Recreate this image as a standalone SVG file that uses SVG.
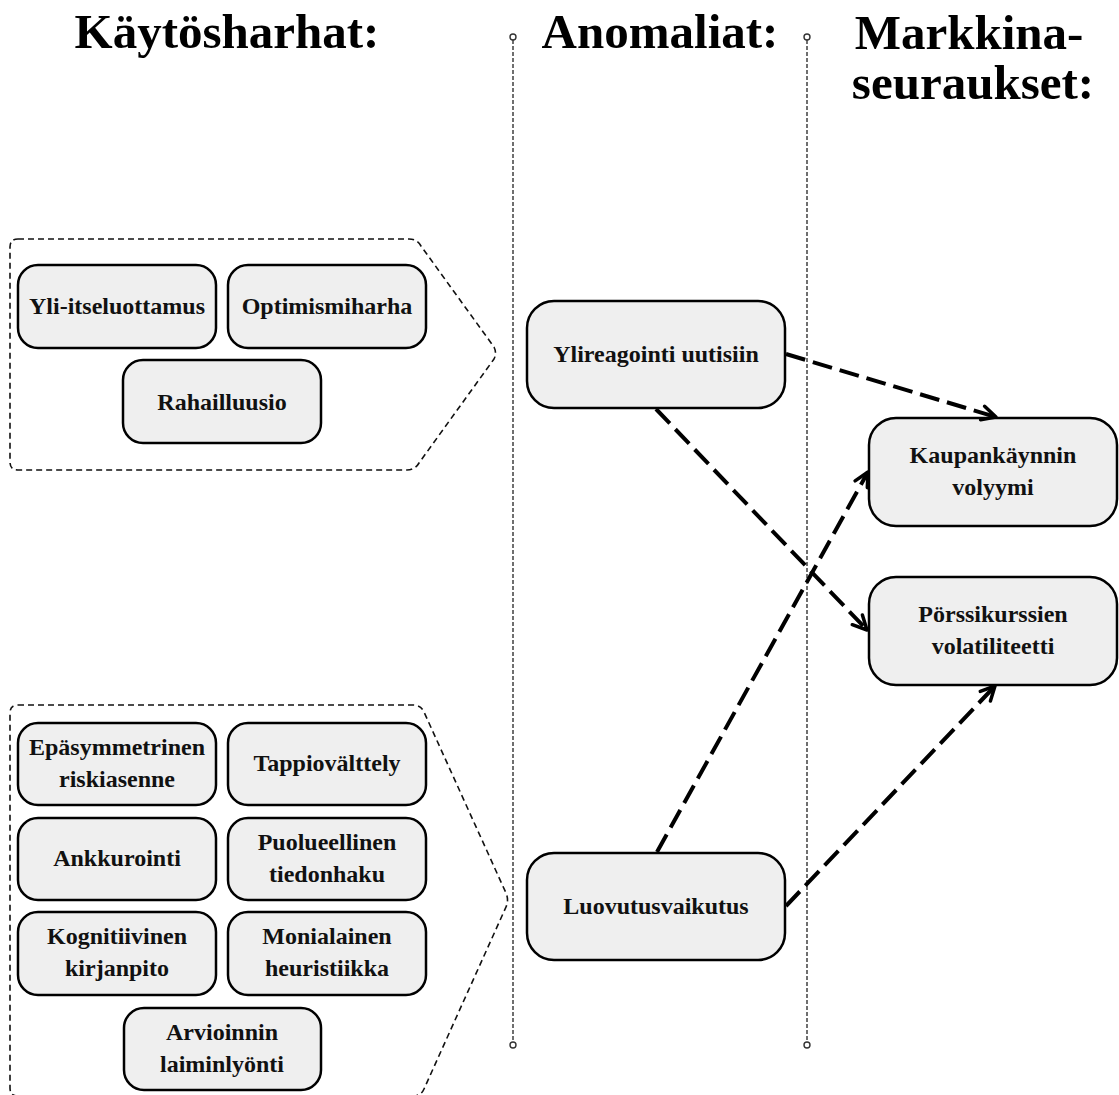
<svg xmlns="http://www.w3.org/2000/svg" width="1119" height="1095" viewBox="0 0 1119 1095">
<style>
.hdr{font-family:"Liberation Serif","Times New Roman",serif;font-weight:bold;font-size:49px;fill:#000;text-anchor:middle}
.lbl{font-family:"Liberation Serif","Times New Roman",serif;font-weight:bold;font-size:24px;fill:#111;text-anchor:middle}
.box{fill:#efefef;stroke:#000;stroke-width:2.5}
.grp{fill:none;stroke:#111;stroke-width:1.6;stroke-dasharray:6 4}
.sep{fill:none;stroke:#333;stroke-width:1.4;stroke-dasharray:4 2}
.dot{fill:#fff;stroke:#333;stroke-width:1.4}
.con{fill:none;stroke:#000;stroke-width:4;stroke-dasharray:20 8}
</style>
<defs>
<marker id="arr" markerUnits="userSpaceOnUse" markerWidth="20" markerHeight="20" viewBox="0 0 20 20" refX="17" refY="10" orient="auto">
<path d="M3,3 L17,10 L3,17" fill="none" stroke="#000" stroke-width="3.5" stroke-linecap="round" stroke-linejoin="round"/>
</marker>
</defs>
<rect width="1119" height="1095" fill="#fff"/>

<g id="headers">
<text class="hdr" x="227" y="48">Käytösharhat:</text>
<text class="hdr" x="660" y="48">Anomaliat:</text>
<text class="hdr"><tspan x="969" y="49">Markkina-</tspan><tspan x="973" y="99">seuraukset:</tspan></text>
</g>

<g id="separators">
<line class="sep" x1="513" y1="40" x2="513" y2="1042"/>
<circle class="dot" cx="513" cy="37" r="3"/>
<circle class="dot" cx="513" cy="1045" r="3"/>
<line class="sep" x1="807" y1="40" x2="807" y2="1042"/>
<circle class="dot" cx="807" cy="37" r="3"/>
<circle class="dot" cx="807" cy="1045" r="3"/>
</g>

<g id="group-top">
<path class="grp" d="M18,239 L409,239 Q417,239 421,246 L494,347 Q497,353 494,359 L419,463 Q415,470 407,470 L18,470 Q10,470 10,462 L10,247 Q10,239 18,239 Z"/>
</g>
<g id="group-bottom">
<path class="grp" d="M18,705 L413,705 Q421,705 424,712 L506,893 Q509,900 506,907 L424,1089 Q421,1096 413,1096 L18,1096 Q10,1096 10,1088 L10,713 Q10,705 18,705 Z"/>
</g>

<g id="n-yli">
<rect class="box" x="18" y="265" width="198" height="83" rx="20"/>
<text class="lbl" x="117" y="314">Yli-itseluottamus</text>
</g>
<g id="n-optimismi">
<rect class="box" x="228" y="265" width="198" height="83" rx="20"/>
<text class="lbl" x="327" y="314">Optimismiharha</text>
</g>
<g id="n-raha">
<rect class="box" x="123" y="360" width="198" height="83" rx="20"/>
<text class="lbl" x="222" y="410">Rahailluusio</text>
</g>

<g id="n-epasym">
<rect class="box" x="18" y="723" width="198" height="82" rx="20"/>
<text class="lbl" x="117" y="755">Epäsymmetrinen</text>
<text class="lbl" x="117" y="787">riskiasenne</text>
</g>
<g id="n-tappio">
<rect class="box" x="228" y="723" width="198" height="82" rx="20"/>
<text class="lbl" x="327" y="771">Tappiovälttely</text>
</g>
<g id="n-ankku">
<rect class="box" x="18" y="818" width="198" height="82" rx="20"/>
<text class="lbl" x="117" y="866">Ankkurointi</text>
</g>
<g id="n-puolu">
<rect class="box" x="228" y="818" width="198" height="82" rx="20"/>
<text class="lbl" x="327" y="850">Puolueellinen</text>
<text class="lbl" x="327" y="882">tiedonhaku</text>
</g>
<g id="n-kogn">
<rect class="box" x="18" y="912" width="198" height="83" rx="20"/>
<text class="lbl" x="117" y="944">Kognitiivinen</text>
<text class="lbl" x="117" y="976">kirjanpito</text>
</g>
<g id="n-moni">
<rect class="box" x="228" y="912" width="198" height="83" rx="20"/>
<text class="lbl" x="327" y="944">Monialainen</text>
<text class="lbl" x="327" y="976">heuristiikka</text>
</g>
<g id="n-arvio">
<rect class="box" x="124" y="1008" width="197" height="82" rx="20"/>
<text class="lbl" x="222" y="1040">Arvioinnin</text>
<text class="lbl" x="222" y="1072">laiminlyönti</text>
</g>

<g id="n-ylireagointi">
<rect class="box" x="527" y="301" width="258" height="107" rx="27"/>
<text class="lbl" x="656" y="362">Ylireagointi uutisiin</text>
</g>
<g id="n-luovutus">
<rect class="box" x="527" y="853" width="258" height="107" rx="27"/>
<text class="lbl" x="656" y="914">Luovutusvaikutus</text>
</g>
<g id="n-kaupan">
<rect class="box" x="869" y="418" width="248" height="108" rx="27"/>
<text class="lbl" x="993" y="463">Kaupankäynnin</text>
<text class="lbl" x="993" y="495">volyymi</text>
</g>
<g id="n-porssi">
<rect class="box" x="869" y="577" width="248" height="108" rx="27"/>
<text class="lbl" x="993" y="622">Pörssikurssien</text>
<text class="lbl" x="993" y="654">volatiliteetti</text>
</g>

<g id="connectors">
<line class="con" x1="786" y1="354" x2="996" y2="417" marker-end="url(#arr)"/>
<line class="con" x1="656" y1="409" x2="867" y2="630" marker-end="url(#arr)"/>
<line class="con" x1="657" y1="852" x2="868" y2="472" marker-end="url(#arr)"/>
<line class="con" x1="786" y1="906" x2="995" y2="686" marker-end="url(#arr)"/>
</g>
</svg>
